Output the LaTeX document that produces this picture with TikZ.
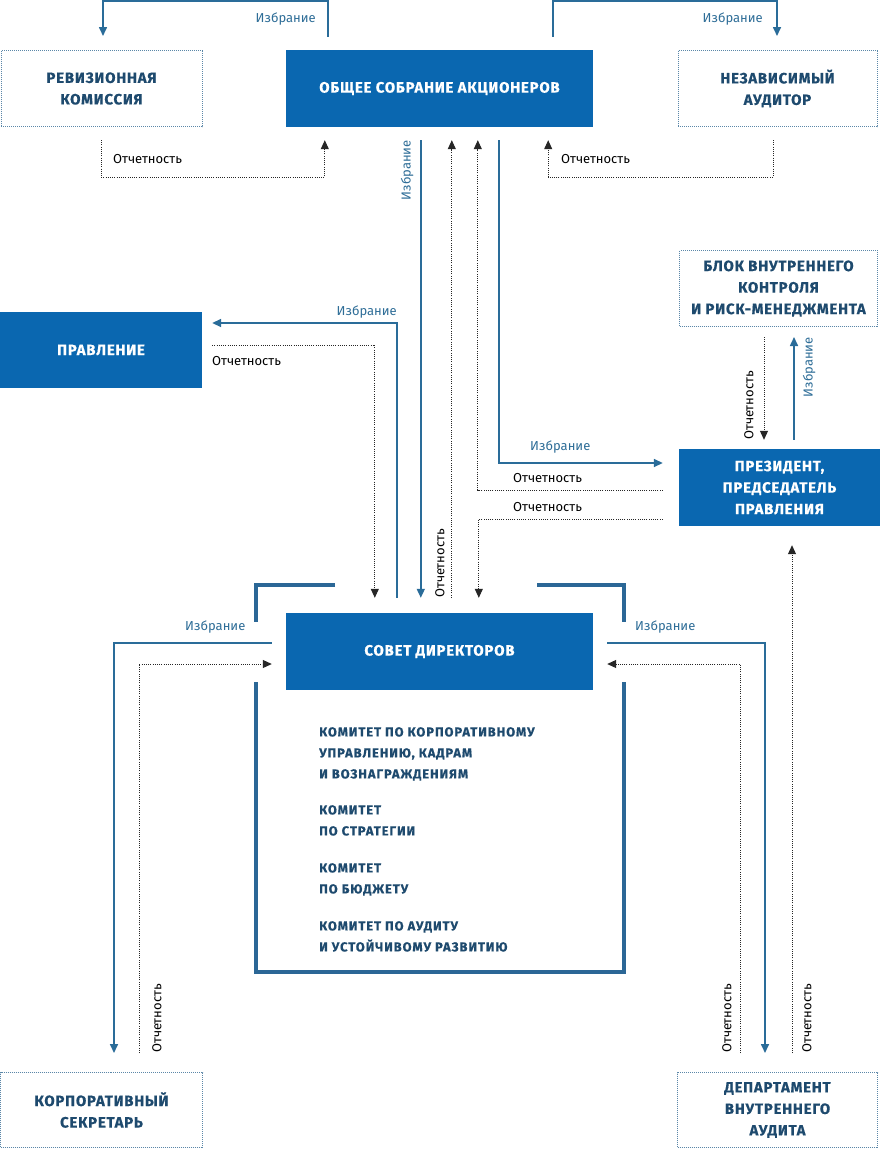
\documentclass[tikz,border=0pt]{standalone}
\usepackage{fontspec}
\setmainfont{Fira Sans}
\newfontfamily\titlef[LetterSpace=5, BoldFeatures={FakeBold=0.4}]{Fira Sans}
\newfontfamily\commf[LetterSpace=7, BoldFeatures={FakeBold=0.4}]{Fira Sans}
\usetikzlibrary{arrows.meta,calc}
\definecolor{cblue}{HTML}{0A67B0}
\definecolor{cdark}{HTML}{1E4A6E}
\definecolor{carrow}{HTML}{2A6C99}
\definecolor{clbl}{HTML}{2F6E98}
\definecolor{cdot}{HTML}{5B87A8}
\definecolor{cframe}{HTML}{2B6796}
\tikzset{
  fbox/.style={fill=cblue, draw=none, text=white, font=\titlef\bfseries\fontsize{15}{21.5}\selectfont, align=center, inner sep=0pt},
  dbox/.style={draw=cdot, line width=1pt, dash pattern=on 1pt off 1pt, text=cdark, font=\titlef\bfseries\fontsize{15}{21.5}\selectfont, align=center, inner sep=0pt},
  tipa/.style={-{Triangle[length=9pt,width=8pt]}},
  sel/.style={draw=carrow, line width=1.6pt, tipa},
  rep/.style={draw=black!85, line width=1pt, dash pattern=on 1pt off 1.2pt, tipa},
  lblb/.style={text=clbl, font=\fontsize{13}{15}\selectfont, inner sep=0pt},
  lblk/.style={text=black, font=\fontsize{13}{15}\selectfont, inner sep=0pt},
  frame/.style={draw=cframe, line width=3.5pt},
  comm/.style={text=cdark, font=\commf\bfseries\fontsize{13}{21}\selectfont, align=left, inner sep=0pt}
}
\begin{document}
\begin{tikzpicture}[x=1pt,y=-1pt]
\useasboundingbox (0,0) rectangle (880,1149);
\fill[white] (0,0) rectangle (880,1149);

% boxes
\node[dbox, minimum width=201pt, minimum height=76pt] (rev) at (101.5,88.5) {РЕВИЗИОННАЯ\\КОМИССИЯ};
\node[fbox, minimum width=307pt, minimum height=77pt] (oca) at (439.5,88.5) {ОБЩЕЕ СОБРАНИЕ АКЦИОНЕРОВ};
\node[dbox, minimum width=199pt, minimum height=76pt] (aud) at (777.5,88.5) {НЕЗАВИСИМЫЙ\\АУДИТОР};
\node[dbox, minimum width=198pt, minimum height=76pt] (blk) at (778.5,288.5) {БЛОК ВНУТРЕННЕГО\\КОНТРОЛЯ\\И РИСК-МЕНЕДЖМЕНТА};
\node[fbox, minimum width=202pt, minimum height=76pt] (prav) at (101,350) {ПРАВЛЕНИЕ};
\node[fbox, minimum width=201pt, minimum height=77pt] (pres) at (779.5,487.5) {ПРЕЗИДЕНТ,\\ПРЕДСЕДАТЕЛЬ\\ПРАВЛЕНИЯ};
\node[fbox, minimum width=307pt, minimum height=77pt] (sd) at (439.5,651.5) {СОВЕТ ДИРЕКТОРОВ};
\node[dbox, minimum width=202pt, minimum height=75pt] (sec) at (101.5,1110) {КОРПОРАТИВНЫЙ\\СЕКРЕТАРЬ};
\node[dbox, minimum width=200pt, minimum height=75pt] (dep) at (777.5,1110) {ДЕПАРТАМЕНТ\\ВНУТРЕННЕГО\\АУДИТА};

% frame around the board
\draw[frame] (335,585) -- (256,585) -- (256,622);
\draw[frame] (256,682) -- (256,972) -- (624,972) -- (624,682);
\draw[frame] (537,585) -- (624,585) -- (624,622);

\node[comm, anchor=north west] (cm) at (319,727) {КОМИТЕТ ПО КОРПОРАТИВНОМУ\\УПРАВЛЕНИЮ, КАДРАМ\\И ВОЗНАГРАЖДЕНИЯМ\\[15pt]КОМИТЕТ\\ПО СТРАТЕГИИ\\[16pt]КОМИТЕТ\\ПО БЮДЖЕТУ\\[16pt]КОМИТЕТ ПО АУДИТУ\\И УСТОЙЧИВОМУ РАЗВИТИЮ};

% top connectors
\draw[sel] ($(oca.north west)+(42,-13)$) |- ($(rev.north)+(1.5,-49)$) -- ($(rev.north)+(1.5,-14)$);
\node[lblb, anchor=east] (t1) at (316,19) {Избрание};
\draw[sel] ($(oca.north east)+(-40,-13)$) |- ($(aud.north)+(-0.5,-49)$) -- ($(aud.north)+(-0.5,-14)$);
\node[lblb, anchor=east] (t2) at (763,19) {Избрание};

\draw[rep] ($(rev.south)+(-0.5,13)$) |- ($(oca.south west)+(39,50)$) -- ($(oca.south west)+(39,13)$);
\node[lblk, anchor=west] (t3) at (113,159) {Отчетность};
\draw[rep] ($(aud.south)+(-4.5,13)$) |- ($(oca.south east)+(-45,50)$) -- ($(oca.south east)+(-45,13)$);
\node[lblk, anchor=west] (t4) at (561,159) {Отчетность};

% central verticals
\draw[sel] ($(oca.south west)+(135,13)$) -- ($(sd.north west)+(135,-15)$);
\node[lblb, rotate=90, anchor=east] (t5) at (407,140) {Избрание};
\draw[rep] ($(sd.north west)+(166,-15)$) -- ($(oca.south west)+(166,13)$);
\node[lblk, rotate=90, anchor=west] (t6) at (440,598) {Отчетность};
\draw[rep] ($(pres.west)+(-16,2.5)$) -| ($(oca.south west)+(192,13)$);
\node[lblk, anchor=west] (t7) at (513,478) {Отчетность};
\draw[sel] ($(oca.south west)+(213,13)$) |- ($(pres.west)+(-16,-24.5)$);
\node[lblb, anchor=west] (t8) at (530,447) {Избрание};
\draw[sel] ($(sd.north west)+(111,-15)$) |- ($(prav.east)+(10,-27)$);
\node[lblb, anchor=east] (t9) at (397,312) {Избрание};
\draw[rep] ($(prav.east)+(10,-5)$) -| ($(sd.north west)+(89,-15)$);
\node[lblk, anchor=west] (t10) at (212,361) {Отчетность};
\draw[rep] ($(pres.west)+(-16,31.5)$) -| ($(sd.north west)+(193,-15)$);
\node[lblk, anchor=west] (t11) at (513,507) {Отчетность};

% block <-> president
\draw[rep] ($(blk.south)+(-14.5,10)$) -- ($(pres.north)+(-15.5,-9)$);
\node[lblk, rotate=90, anchor=west] (t12) at (749,440) {Отчетность};
\draw[sel] ($(pres.north)+(14.5,-9)$) -- ($(blk.south)+(15.5,10)$);
\node[lblb, rotate=90, anchor=east] (t13) at (809,337) {Избрание};

% left side
\draw[sel] ($(sd.west)+(-14,-8.5)$) -| ($(sec.north)+(12.5,-19)$);
\node[lblb, anchor=west] (t14) at (185,627) {Избрание};
\draw[rep] ($(sec.north)+(37.5,-19)$) |- ($(sd.west)+(-14,12.5)$);
\node[lblk, rotate=90, anchor=west] (t15) at (157,1053) {Отчетность};

% right side
\draw[sel] ($(sd.east)+(14,-8.5)$) -| ($(dep.north)+(-12.5,-19)$);
\node[lblb, anchor=west] (t16) at (635,627) {Избрание};
\draw[rep] ($(dep.north)+(-37.5,-19)$) |- ($(sd.east)+(14,12.5)$);
\node[lblk, rotate=90, anchor=west] (t17) at (727,1053) {Отчетность};
\draw[rep] ($(dep.north)+(14.5,-19)$) -- ($(pres.south)+(12.5,19)$);
\node[lblk, rotate=90, anchor=west] (t18) at (807,1053) {Отчетность};
\end{tikzpicture}
\end{document}
